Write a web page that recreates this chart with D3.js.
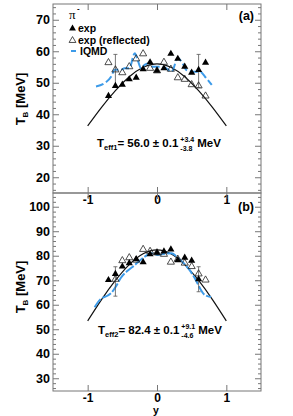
<!DOCTYPE html>
<html>
<head>
<meta charset="utf-8">
<script src="https://cdn.jsdelivr.net/npm/d3@7"></script>
<style>
  body { margin: 0; background: #fff; }
  svg text { font-family: "Liberation Sans", Arial, sans-serif; font-weight: bold; }
</style>
</head>
<body>
<div id="chart"></div>
<script>
// rapidity bins
var binA = [-0.7, -0.6, -0.5, -0.4, -0.3, -0.2, -0.1, 0, 0.1, 0.2, 0.3, 0.4, 0.5, 0.6, 0.7];
var expA = [45.8, 49.0, 49.4, 51.1, 51.6, 54.3, 56.5, 53.8, 54.6, 59.2, 57.6, 55.1, 53.2, 54.1, 56.4];
var reflA = [56.4, 54.1, 53.2, 55.1, 57.6, 59.2, 54.6, 53.8, 56.5, 54.3, 51.6, 51.1, 49.4, 49.0, 45.8];

var binB = [-0.7, -0.6, -0.5, -0.4, -0.3, -0.2, -0.1, 0, 0.1, 0.2, 0.3, 0.4, 0.5, 0.6];
var expB = [70.1, 72.6, 75.6, 77.0, 78.6, 77.4, 80.6, 81.2, 81.8, 82.6, 78.2, 79.2, 78.0, 70.4];
var reflBinB = [-0.6, -0.5, -0.4, -0.3, -0.2, -0.1, 0, 0.1, 0.2, 0.3, 0.4, 0.5, 0.6, 0.7];
var reflB = [70.4, 78.0, 79.2, 78.2, 82.6, 81.8, 81.2, 80.6, 77.4, 78.6, 77.0, 75.6, 72.6, 70.1];

// systematic error bars
var errBin = [-0.6, 0.6];
var errLoA = [48.5, 48.5];
var errHiA = [59.0, 59.0];
var errLoB = [63.5, 65.3];
var errHiB = [75.5, 75.5];

// IQMD
var iqmdXA = [-0.88, -0.76, -0.66, -0.61, -0.52, -0.47, -0.40, -0.32, -0.28, -0.23, -0.18, -0.11, -0.06, 0.04, 0.13, 0.21, 0.30, 0.38, 0.42, 0.52, 0.62, 0.69, 0.79];
var iqmdA = [48.8, 49.8, 52.0, 54.1, 54.1, 54.6, 54.6, 59.4, 57.3, 54.6, 55.7, 56.2, 55.1, 55.1, 54.6, 53.5, 57.8, 55.7, 54.1, 53.5, 53.5, 52.0, 49.3];
var iqmdXB = [-0.9, -0.81, -0.73, -0.66, -0.59, -0.52, -0.42, -0.32, -0.25, -0.18, -0.08, 0.01, 0.1, 0.21, 0.3, 0.4, 0.46, 0.52, 0.57, 0.62, 0.69, 0.78];
var iqmdB = [59.0, 62.4, 63.5, 64.8, 67.6, 71.0, 74.0, 76.2, 78.0, 79.6, 81.0, 80.3, 80.8, 81.0, 79.2, 76.6, 74.5, 72.0, 69.5, 66.7, 64.0, 63.2];

// fit curves
var fitX = [-1, -0.8, -0.6, -0.4, -0.2, 0, 0.2, 0.4, 0.6, 0.8, 1];
var fitA = [36.3, 42.2, 47.5, 51.9, 54.9, 56.0, 54.9, 51.9, 47.5, 42.2, 36.3];
var fitB = [53.4, 62.1, 69.9, 76.4, 80.8, 82.4, 80.8, 76.4, 69.9, 62.1, 53.4];

var xTicks = [-1, 0, 1];
var yTicksA = [20, 30, 40, 50, 60, 70];
var yTicksB = [30, 40, 50, 60, 70, 80, 90, 100];

var width = 293, height = 416;
var left = 53, right = 261;
var frameCol = "#777";
var blue = "#3d9be9";

var svg = d3.select("#chart").append("svg")
  .attr("width", width)
  .attr("height", height);

var xScale = d3.scaleLinear().domain([-1.5, 1.5]).range([left, right]);

var panels = [
  {top: 4, bottom: 193, domain: [15, 75], ticks: yTicksA, minor: d3.range(16, 75, 2),
   exp: expA, expX: binA, refl: reflA, reflX: binA, errLo: errLoA, errHi: errHiA,
   iqmdX: iqmdXA, iqmd: iqmdA, fit: fitA, tag: "(a)", tagY: 20,
   label: {x: 97, y: 147, name: "eff1", val: "= 56.0 \u00b1 0.1", up: "+3.4", dn: "-3.8"}, titleY: 99},
  {top: 193, bottom: 391, domain: [24.8, 105.6], ticks: yTicksB, minor: d3.range(26, 105, 2),
   exp: expB, expX: binB, refl: reflB, reflX: reflBinB, errLo: errLoB, errHi: errHiB,
   iqmdX: iqmdXB, iqmd: iqmdB, fit: fitB, tag: "(b)", tagY: 211,
   label: {x: 98, y: 334, name: "eff2", val: "= 82.4 \u00b1 0.1", up: "+9.1", dn: "-4.6"}, titleY: 287}
];

panels.forEach(function(p, idx) {
  var yScale = d3.scaleLinear().domain(p.domain).range([p.bottom, p.top]);
  var g = svg.append("g");

  // frame
  g.append("rect")
    .attr("x", left).attr("y", p.top)
    .attr("width", right - left).attr("height", p.bottom - p.top)
    .attr("fill", "none").attr("stroke", frameCol).attr("stroke-width", 1);

  // left axis, ticks pointing in
  var yl = g.append("g").attr("transform", "translate(" + left + ",0)")
    .call(d3.axisLeft(yScale).tickValues(p.ticks).tickSize(-6).tickSizeOuter(0).tickPadding(3));
  yl.append("g").call(d3.axisLeft(yScale).tickValues(p.minor.filter(function(v) { return v % 10 != 0; }))
    .tickSize(-3).tickSizeOuter(0).tickFormat(""));
  // right axis
  var yr = g.append("g").attr("transform", "translate(" + right + ",0)")
    .call(d3.axisRight(yScale).tickValues(p.ticks).tickSize(-6).tickSizeOuter(0).tickFormat(""));
  yr.append("g").call(d3.axisRight(yScale).tickValues(p.minor.filter(function(v) { return v % 10 != 0; }))
    .tickSize(-3).tickSizeOuter(0).tickFormat(""));
  // top and bottom x ticks
  var xt = g.append("g").attr("transform", "translate(0," + p.top + ")")
    .call(d3.axisTop(xScale).tickValues(xTicks).tickSize(-6).tickSizeOuter(0).tickFormat(""));
  var xb = g.append("g").attr("transform", "translate(0," + p.bottom + ")")
    .call(d3.axisBottom(xScale).tickValues(xTicks).tickSize(-6).tickSizeOuter(0)
      .tickPadding(2).tickFormat(idx == 1 ? d3.format("d") : ""));

  g.selectAll(".domain").remove();
  g.selectAll(".tick line").attr("stroke", frameCol);
  g.selectAll(".tick text").attr("fill", "#000").style("font-size", "12.5px")
    .style("font-family", "'Liberation Sans', Arial, sans-serif").style("font-weight", "bold");
  xb.selectAll(".tick text").style("font-size", "12px")
    .text(function(d) { return d < 0 ? "-" + Math.abs(d) : d; });

  // y title
  var tt = g.append("text")
    .attr("transform", "translate(25," + p.titleY + ") rotate(-90)")
    .attr("text-anchor", "middle")
    .style("font-size", "13px");
  tt.append("tspan").text("T");
  tt.append("tspan").attr("dy", 3).style("font-size", "8px").text("B");
  tt.append("tspan").attr("dy", -3).text("  [MeV]");

  // tag
  g.append("text").attr("x", 254).attr("y", p.tagY).attr("text-anchor", "end")
    .style("font-size", "12.5px").text(p.tag);

  // fit curve
  var fitLine = d3.line().curve(d3.curveNatural)
    .x(function(d, i) { return xScale(fitX[i]); })
    .y(function(d) { return yScale(d); });
  g.append("path").datum(p.fit).attr("d", fitLine)
    .attr("fill", "none").attr("stroke", "#111").attr("stroke-width", 1.2);

  // IQMD
  var iqLine = d3.line().curve(d3.curveMonotoneX)
    .x(function(d, i) { return xScale(p.iqmdX[i]); })
    .y(function(d) { return yScale(d); });
  g.append("path").datum(p.iqmd).attr("d", iqLine)
    .attr("fill", "none").attr("stroke", blue).attr("stroke-width", 2)
    .attr("stroke-dasharray", idx == 0 ? "8,3" : "10,2");

  // error bars
  errBin.forEach(function(b, i) {
    var x = xScale(b);
    g.append("line").attr("x1", x).attr("x2", x)
      .attr("y1", yScale(p.errLo[i])).attr("y2", yScale(p.errHi[i]))
      .attr("stroke", "#555").attr("stroke-width", 0.8);
    [p.errLo[i], p.errHi[i]].forEach(function(v) {
      g.append("line").attr("x1", x - 2).attr("x2", x + 2)
        .attr("y1", yScale(v)).attr("y2", yScale(v))
        .attr("stroke", "#555").attr("stroke-width", 0.8);
    });
  });

  var tri = d3.symbol().type(d3.symbolTriangle).size(22);
  g.selectAll(".refl").data(p.refl).enter().append("path")
    .attr("class", "refl")
    .attr("d", tri)
    .attr("transform", function(d, i) { return "translate(" + xScale(p.reflX[i]) + "," + yScale(d) + ")"; })
    .attr("fill", "none").attr("stroke", "#222").attr("stroke-width", 0.8);
  g.selectAll(".exp").data(p.exp).enter().append("path")
    .attr("class", "exp")
    .attr("d", tri)
    .attr("transform", function(d, i) { return "translate(" + xScale(p.expX[i]) + "," + yScale(d) + ")"; })
    .attr("fill", "#000");

  // fit result label
  var L = p.label;
  var t = g.append("text").attr("x", L.x).attr("y", L.y).style("font-size", "11.5px");
  t.append("tspan").text("T");
  t.append("tspan").attr("dy", 2.5).style("font-size", "7.5px").text(L.name);
  t.append("tspan").attr("dy", -2.5).text(L.val);
  var w = t.node().getComputedTextLength();
  var sx = L.x + w + 2;
  var up = g.append("text").attr("x", sx).attr("y", L.y - 5).style("font-size", "7px").text(L.up);
  var dn = g.append("text").attr("x", sx).attr("y", L.y + 4).style("font-size", "7px").text(L.dn);
  var sw = Math.max(up.node().getComputedTextLength(), dn.node().getComputedTextLength());
  g.append("text").attr("x", sx + sw + 3).attr("y", L.y).style("font-size", "11.5px").text("MeV");
});

// legend in panel (a)
var lg = svg.append("g");
lg.append("text").attr("x", 69).attr("y", 19)
  .style("font-family", "'Liberation Serif', 'DejaVu Serif', serif").style("font-weight", "normal")
  .style("font-size", "13px").text("\u03c0");
lg.append("text").attr("x", 77).attr("y", 11).style("font-size", "8px").text("-");
var legTri = d3.symbol().type(d3.symbolTriangle).size(20);
lg.append("path").attr("d", legTri).attr("transform", "translate(72.5,28.5)").attr("fill", "#000");
lg.append("text").attr("x", 78).attr("y", 32).style("font-size", "10.5px").text("exp");
lg.append("path").attr("d", legTri).attr("transform", "translate(72.5,40.5)")
  .attr("fill", "none").attr("stroke", "#222").attr("stroke-width", 0.8);
lg.append("text").attr("x", 78).attr("y", 44).style("font-size", "10.5px").text("exp (reflected)");
lg.append("line").attr("x1", 71).attr("x2", 76).attr("y1", 51).attr("y2", 51)
  .attr("stroke", blue).attr("stroke-width", 2);
lg.append("text").attr("x", 80).attr("y", 55).style("font-size", "10.5px").text("IQMD");

// x title
svg.append("text").attr("x", 156).attr("y", 413.5).attr("text-anchor", "middle")
  .style("font-size", "10.5px").text("y");
</script>
</body>
</html>
